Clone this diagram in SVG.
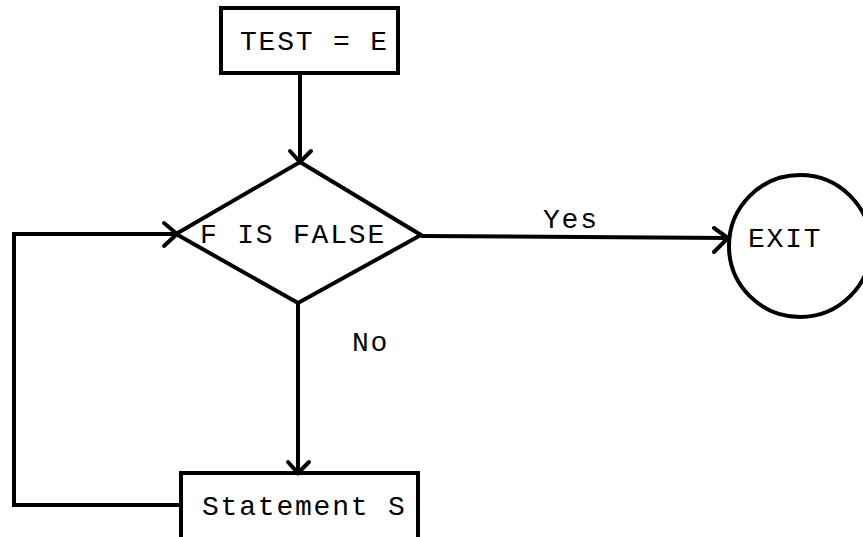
<svg xmlns="http://www.w3.org/2000/svg" width="863" height="537" viewBox="0 0 863 537">
<style>
.ln{fill:none;stroke:#000;stroke-width:4;stroke-linejoin:miter;stroke-linecap:butt}
.ah{fill:none;stroke:#000;stroke-width:4;stroke-linecap:round}
.t{font-family:"Liberation Mono","DejaVu Sans Mono",monospace;font-size:28px;letter-spacing:1.8px;fill:#000}
</style>
<rect width="863" height="537" fill="#fff"/>
<g id="test">
<rect class="ln" x="221" y="8" width="177" height="65"/>
<text class="t" x="240" y="50">TEST = E</text>
</g>
<g id="decision">
<polygon class="ln" points="300,162 421,235 298,303 176,234"/>
<text class="t" x="200" y="243">F IS FALSE</text>
</g>
<g id="exit">
<circle class="ln" cx="800" cy="246" r="71"/>
<text class="t" x="748" y="247">EXIT</text>
</g>
<g id="statement">
<rect class="ln" x="181" y="473" width="237" height="80"/>
<text class="t" x="202" y="515">Statement S</text>
</g>
<g id="connectors">
<line class="ln" x1="300" y1="73" x2="300" y2="162"/>
<path class="ah" d="M290,151 L300,162 L311,151"/>
<line class="ln" x1="421" y1="236" x2="728" y2="238"/>
<path class="ah" d="M714,228 L728,238 L714,252"/>
<text class="t" x="543" y="228">Yes</text>
<line class="ln" x1="298" y1="303" x2="298" y2="473"/>
<path class="ah" d="M288,462 L298,473 L309,462"/>
<text class="t" x="352" y="351">No</text>
<polyline class="ln" points="181,505 14,505 14,234 176,234"/>
<path class="ah" d="M164,223 L177,234 L164,246"/>
</g>
</svg>
